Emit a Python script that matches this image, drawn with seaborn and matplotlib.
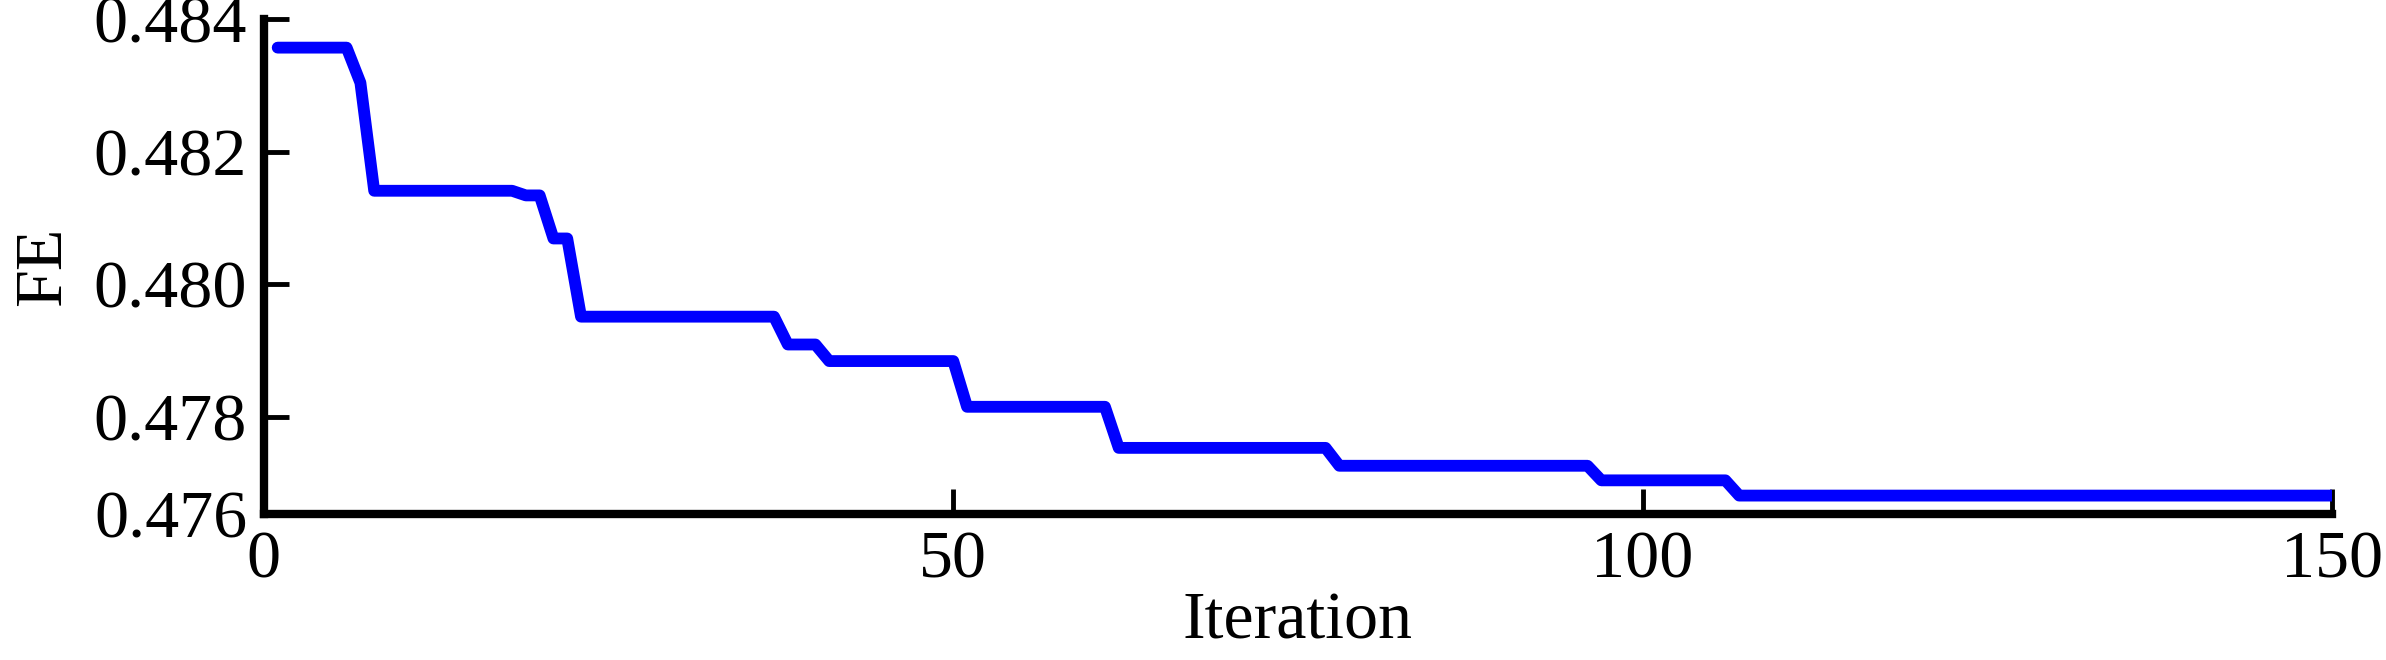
import matplotlib
matplotlib.use("Agg")
import matplotlib.pyplot as plt
import seaborn as sns
import pandas as pd

# step levels: (first iteration, last iteration, FE value)
seg_start = [1, 7, 8, 19, 21, 23, 38, 41, 51, 62, 78, 97, 107]
seg_end   = [6, 7, 18, 20, 22, 37, 40, 50, 61, 77, 96, 106, 150]
seg_value = [0.48357, 0.48304, 0.48141, 0.48134, 0.48069, 0.47951, 0.47909,
             0.47884, 0.47815, 0.47753, 0.47726, 0.47704, 0.47681]

iterations = []
fe = []
for s, e, v in zip(seg_start, seg_end, seg_value):
    for i in range(s, e + 1):
        iterations.append(i)
        fe.append(v)
df = pd.DataFrame({"Iteration": iterations, "FE": fe})

x_ticks = [0, 50, 100, 150]
y_ticks = [0.47653, 0.478, 0.480, 0.482, 0.484]
y_tick_labels = ["0.476", "0.478", "0.480", "0.482", "0.484"]

sns.set_theme(style="ticks")
plt.rcParams["font.family"] = ["Liberation Serif", "DejaVu Serif"]

fig = plt.figure(figsize=(23.86, 6.6), dpi=100)
ax = fig.add_axes([0.1106, 0.221, 0.8668, 0.750])
sns.lineplot(data=df, x="Iteration", y="FE", ax=ax, color="#0000FF", linewidth=8.5,
             solid_capstyle="round")
ax.set_xlim(0, 150)
ax.set_ylim(0.47653, 0.484)
ax.set_xticks(x_ticks)
ax.set_xticklabels([str(t) for t in x_ticks])
ax.set_yticks(y_ticks)
ax.set_yticklabels(y_tick_labels)
for side in ["top", "right"]:
    ax.spines[side].set_visible(False)
for side in ["left", "bottom"]:
    ax.spines[side].set_linewidth(6)
    ax.spines[side].set_color("black")
ax.tick_params(axis="both", direction="in", length=18, width=3.5, labelsize=49, colors="black")
ax.tick_params(axis="x", pad=12)
ax.tick_params(axis="y", pad=12)
ax.set_xlabel("Iteration", fontsize=49, labelpad=0, color="black")
ax.set_ylabel("FE", fontsize=49, labelpad=14, color="black")
fig.savefig("out.png", dpi=100)
